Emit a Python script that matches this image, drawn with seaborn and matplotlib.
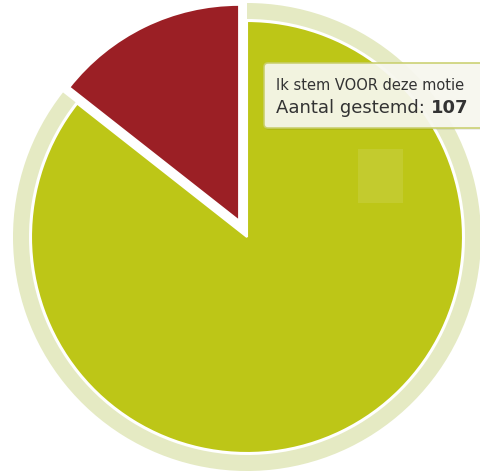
import matplotlib
matplotlib.use("Agg")
import matplotlib.pyplot as plt
from matplotlib.patches import Wedge, FancyBboxPatch, Rectangle
import seaborn as sns

# vote data
labels = ["Ik stem VOOR deze motie", "Ik stem TEGEN deze motie"]
votes = [107, 18]
colors = ["#bdc617", "#9b1f25"]
halo_color = "#e5eac3"
hovered = 0  # slice under the tooltip

sns.set_style("white")
plt.rcParams["font.family"] = ["DejaVu Sans"]

fig = plt.figure(figsize=(4.81, 4.74), dpi=100)
ax = fig.add_axes([0, 0, 1, 1])

center = (247, 237)
radius = 216
wedges, _ = ax.pie(
    votes,
    colors=colors,
    startangle=90,
    counterclock=False,
    radius=radius,
    center=center,
    explode=[0, 18],
    wedgeprops=dict(edgecolor="white", linewidth=1.5),
    frame=True,
)

# hover halo around the highlighted slice
w = wedges[hovered]
ax.add_patch(Wedge(w.center, w.r + 18, w.theta1, w.theta2, width=16,
                   facecolor=halo_color, edgecolor="none", zorder=0))

# faint hover marker square
ax.add_patch(Rectangle((358, 271), 45, 54, facecolor="white", alpha=0.1,
                       edgecolor="none", zorder=3))

# tooltip
shadow = FancyBboxPatch((265, 344), 240, 66, boxstyle="round,pad=0,rounding_size=4",
                        facecolor="black", edgecolor="none", alpha=0.07, zorder=4)
box = FancyBboxPatch((264, 346), 240, 65, boxstyle="round,pad=0,rounding_size=4",
                     facecolor="#f8f8f0", edgecolor="#c8ce6a", linewidth=1.2,
                     alpha=0.93, zorder=5)
ax.add_patch(shadow)
ax.add_patch(box)

ax.text(276, 384, labels[hovered], fontsize=10.5, color="#333333",
        va="baseline", zorder=6)
t = ax.text(276, 361, "Aantal gestemd: ", fontsize=13, color="#333333",
            va="baseline", zorder=6)
ax.annotate(str(votes[hovered]), xy=(1, 0), xycoords=t, fontsize=13,
            fontweight="bold", color="#333333", va="bottom", ha="left", zorder=6)

ax.set_xlim(0, 481)
ax.set_ylim(0, 474)
ax.set_aspect("equal")
ax.axis("off")

fig.savefig("out.png", dpi=100)
